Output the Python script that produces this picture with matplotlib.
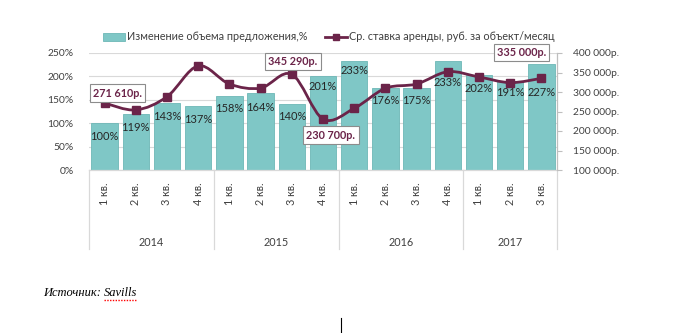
import matplotlib
matplotlib.use("Agg")
import matplotlib.pyplot as plt
from matplotlib.path import Path
from matplotlib.patches import PathPatch, Patch
from matplotlib.lines import Line2D
import matplotlib.transforms as mtransforms
import numpy as np

quarters = ["1 кв.", "2 кв.", "3 кв.", "4 кв.",
            "1 кв.", "2 кв.", "3 кв.", "4 кв.",
            "1 кв.", "2 кв.", "3 кв.", "4 кв.",
            "1 кв.", "2 кв.", "3 кв."]
years = ["2014", "2015", "2016", "2017"]
year_sizes = [4, 4, 4, 3]
supply_change = [100, 119, 143, 137, 158, 164, 140, 201, 233, 176, 175, 233, 202, 191, 227]
rent = [271610, 254000, 288000, 367000, 320500, 310000, 345290, 230700,
        258000, 309500, 320500, 352000, 338500, 324000, 335000]
rent_labels = {0: "271 610р.", 6: "345 290р.", 7: "230 700р.", 14: "335 000р."}
bar_name = "Изменение объема предложения,%"
line_name = "Ср. ставка аренды, руб. за объект/месяц"

# label placement (pixels below the bar top)
bar_label_drop = [13, 13.5, 13.5, 13.3, 12.7, 14, 12, 11, 9.5, 13, 12.3, 22, 13.3, 11.7, 29]

FONT = "Lato"
TXT = "#404040"
BAR = "#7fc7c6"
BAR_EDGE = "#6db7b6"
LINE = "#6b2449"
GRID = "#d9d9d9"
TICK_FS = 7.4

fig = plt.figure(figsize=(6.74, 3.33), dpi=100)
fig.patch.set_facecolor("white")
L, R, B, T = 89 / 674, 557 / 674, 1 - 170 / 333, 1 - 53 / 333
ax = fig.add_axes([L, B, R - L, T - B])
x = np.arange(len(quarters))

ax.bar(x, [v / 100 for v in supply_change], width=0.84, color=BAR,
       edgecolor=BAR_EDGE, linewidth=0.6, zorder=2)
ax.set_xlim(-0.5, len(quarters) - 0.5)
ax.set_ylim(0, 2.5)
ax.set_yticks(np.arange(0, 2.51, 0.5))
ax.set_yticklabels([f"{int(round(v * 100))}%" for v in np.arange(0, 2.51, 0.5)],
                   fontfamily=FONT, fontsize=TICK_FS, color=TXT)
ax.yaxis.grid(True, color=GRID, linewidth=0.8, zorder=0)
ax.set_axisbelow(True)
ax.tick_params(axis="y", length=0, pad=11)
for s in ["top", "right", "left"]:
    ax.spines[s].set_visible(False)
ax.spines["bottom"].set_color(GRID)
ax.spines["bottom"].set_linewidth(0.9)

ax.set_xticks(x)
ax.set_xticklabels(quarters, rotation=90, fontfamily=FONT, fontsize=7.8, color=TXT,
                   va="top")
ax.tick_params(axis="x", length=0, pad=9)

for xi, v, d in zip(x, supply_change, bar_label_drop):
    ax.annotate(f"{v}%", (xi, v / 100), xytext=(0, -d), textcoords="offset pixels",
                ha="center", va="center", fontfamily=FONT, fontsize=8, color="#262626",
                zorder=5)

# category group separators and year labels
trans = mtransforms.blended_transform_factory(ax.transData, ax.transAxes)
yb = (170 - 249) / 117
start = 0
bounds = [-0.5]
for n in year_sizes:
    start += n
    bounds.append(start - 0.5)
for bx in bounds:
    ax.add_line(Line2D([bx, bx], [0, yb], transform=trans, color=GRID,
                       linewidth=0.9, clip_on=False))
for i, yr in enumerate(years):
    cx = (bounds[i] + bounds[i + 1]) / 2
    ax.text(cx, (170 - 242) / 117, yr, transform=trans, ha="center", va="center",
            fontfamily=FONT, fontsize=7.8, color=TXT)

# right axis
ax2 = ax.twinx()
ax2.set_ylim(100000, 400000)
ticks = np.arange(100000, 400001, 50000)
ax2.set_yticks(ticks)
ax2.set_yticklabels([f"{t:,}".replace(",", " ") + "р." for t in ticks],
                    fontfamily=FONT, fontsize=TICK_FS, color=TXT)
ax2.tick_params(axis="y", length=3.5, color="#bfbfbf", pad=8)
for s in ["top", "left", "bottom"]:
    ax2.spines[s].set_visible(False)
ax2.spines["right"].set_color("#bfbfbf")
ax2.spines["right"].set_linewidth(0.9)

# smoothed line (Catmull-Rom -> Bezier)
pts = np.column_stack([x, rent]).astype(float)
verts = [tuple(pts[0])]
codes = [Path.MOVETO]
n = len(pts)
for i in range(n - 1):
    p0 = pts[i - 1] if i > 0 else pts[i]
    p1 = pts[i]
    p2 = pts[i + 1]
    p3 = pts[i + 2] if i + 2 < n else pts[i + 1]
    c1 = p1 + (p2 - p0) / 6
    c2 = p2 - (p3 - p1) / 6
    verts += [tuple(c1), tuple(c2), tuple(p2)]
    codes += [Path.CURVE4] * 3
ax2.add_patch(PathPatch(Path(verts, codes), facecolor="none", edgecolor=LINE,
                        linewidth=2.0, zorder=3))
ax2.plot(x, rent, linestyle="none", marker="s", markersize=5.5, color=LINE, zorder=4)

label_offsets = {0: (13, 10), 6: (1, 13), 7: (8, -16), 14: (-20, 26)}
for i, txt in rent_labels.items():
    dx, dy = label_offsets[i]
    ax2.annotate(txt, (x[i], rent[i]), xytext=(dx, dy), textcoords="offset pixels",
                 ha="center", va="center", fontfamily=FONT, fontsize=7.8,
                 fontweight="bold", color=LINE, zorder=6,
                 bbox=dict(boxstyle="square,pad=0.3", facecolor="white",
                           edgecolor="#8c8c8c", linewidth=0.8))

# legend
handles = [Patch(facecolor=BAR, edgecolor=BAR_EDGE, linewidth=0.6),
           Line2D([], [], color=LINE, linewidth=2.0, marker="s", markersize=5)]
fig.legend(handles, [bar_name, line_name], loc="center", ncol=2,
           bbox_to_anchor=(329 / 674, 1 - 37 / 333), frameon=False,
           prop={"family": FONT, "size": 7.8}, labelcolor=TXT,
           handlelength=2.0, handletextpad=0.2, columnspacing=1.6,
           handleheight=0.8)

# source note
renderer = fig.canvas.get_renderer()
t1 = fig.text(43 / 674, 1 - 293 / 333, "Источник:", fontfamily="Liberation Serif",
              style="italic", fontsize=9, color="black", va="center", ha="left")
bb = t1.get_window_extent(renderer=renderer)
sx = (bb.x1 + 3) / fig.bbox.width
t2 = fig.text(sx, 1 - 293 / 333, "Savills", fontfamily="Liberation Serif",
              style="italic", fontsize=9, color="black", va="center", ha="left")
bb2 = t2.get_window_extent(renderer=renderer)
fig.add_artist(Line2D([bb2.x0 / fig.bbox.width, bb2.x1 / fig.bbox.width],
                      [1 - 300 / 333, 1 - 300 / 333],
                      color="red", linewidth=1.0, linestyle=(0, (1, 1))))
fig.add_artist(Line2D([341 / 674, 341 / 674], [1 - 318 / 333, 1 - 332 / 333],
                      color="black", linewidth=0.8))

fig.savefig("out.png", dpi=100)
